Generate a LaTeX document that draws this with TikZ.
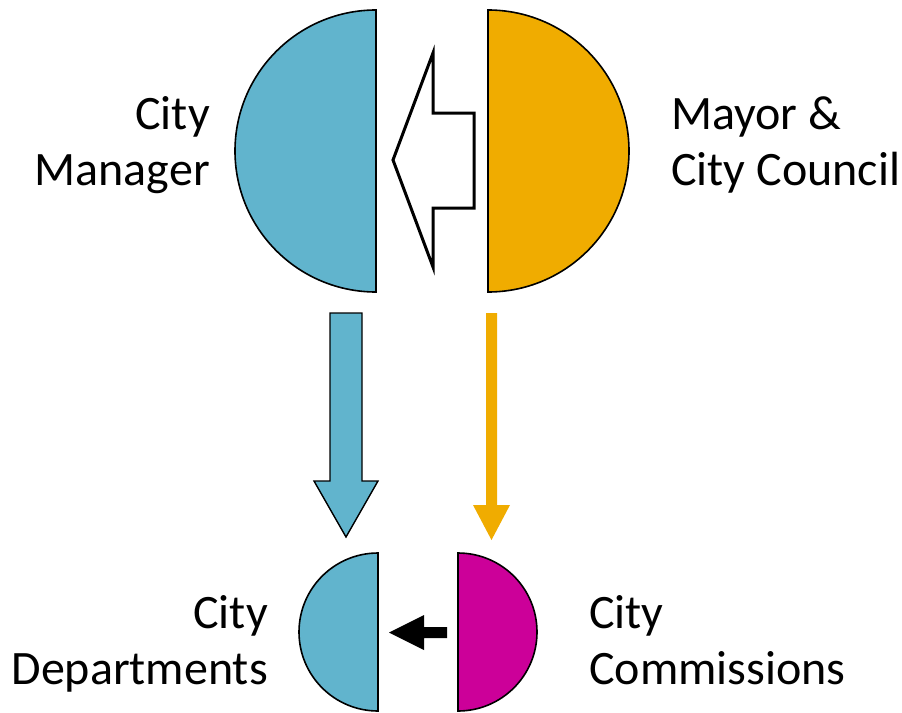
\documentclass[tikz,border=0pt]{standalone}
\usepackage{fontspec}
\setmainfont{Carlito}
\definecolor{cmblue}{HTML}{61B4CD}
\definecolor{cmorange}{HTML}{F0AC00}
\definecolor{cmmagenta}{HTML}{CC0099}
\begin{document}
\begin{tikzpicture}[x=1pt,y=-1pt,
  half/.style={draw=black,line width=1.6pt,line join=miter},
  lbl/.style={inner sep=0pt,font=\fontsize{48}{56}\selectfont},
  hollow/.style={draw=black,fill=white,line width=3pt,line join=miter},
  bluearrow/.style={draw=black,fill=cmblue,line width=1.4pt,line join=miter},
  orangearrow/.style={fill=cmorange},
  blackarrow/.style={fill=black}]
\useasboundingbox (0,0) rectangle (902,712);
% top half circles
\draw[half,fill=cmblue] (376,10) -- (376,292) arc[start angle=90,end angle=270,radius=141] -- cycle;
\draw[half,fill=cmorange] (488,10) -- (488,292) arc[start angle=90,end angle=-90,radius=141] -- cycle;
% hollow arrow
\draw[hollow] (393,160) -- (433,53) -- (433,113) -- (474,113) -- (474,208) -- (433,208) -- (433,267) -- cycle;
% down arrows
\draw[bluearrow] (330,313) -- (362,313) -- (362,481) -- (378,481) -- (346,537) -- (314,481) -- (330,481) -- cycle;
\fill[orangearrow] (486,313) -- (497,313) -- (497,505) -- (510,505) -- (491.5,540) -- (473,505) -- (486,505) -- cycle;
% bottom half circles
\draw[half,fill=cmblue] (378,553) -- (378,711) arc[start angle=90,end angle=270,radius=79] -- cycle;
\draw[half,fill=cmmagenta] (458,553) -- (458,711) arc[start angle=90,end angle=-90,radius=79] -- cycle;
% black arrow
\fill[blackarrow] (447,627) -- (447,638) -- (424,638) -- (424,650) -- (389,632.5) -- (424,615) -- (424,627) -- cycle;
% labels
\node[lbl,align=right,anchor=base east] (mgr) at (210,185) {City\\Manager};
\node[lbl,align=left,anchor=base west] (mayor) at (671,185) {Mayor \&\\City Council};
\node[lbl,align=right,anchor=base east] (dept) at (268,684) {City\\Departments};
\node[lbl,align=left,anchor=base west] (comm) at (589,684) {City\\Commissions};
\end{tikzpicture}
\end{document}
